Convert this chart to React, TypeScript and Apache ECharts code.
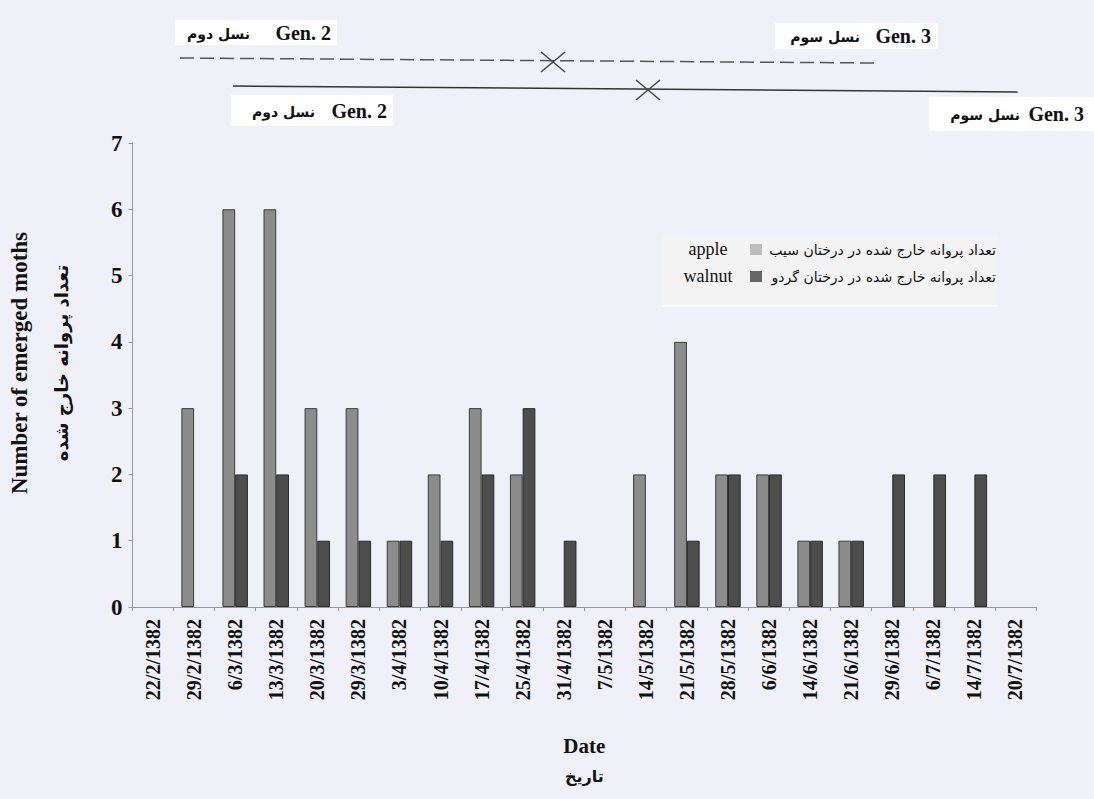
import React, { useEffect, useRef } from "react";
import * as echarts from "echarts";

const categories = [
  "22/2/1382", "29/2/1382", "6/3/1382", "13/3/1382", "20/3/1382", "29/3/1382",
  "3/4/1382", "10/4/1382", "17/4/1382", "25/4/1382", "31/4/1382", "7/5/1382",
  "14/5/1382", "21/5/1382", "28/5/1382", "6/6/1382", "14/6/1382", "21/6/1382",
  "29/6/1382", "6/7/1382", "14/7/1382", "20/7/1382",
];
const appleValues = [0, 3, 6, 6, 3, 3, 1, 2, 3, 2, 0, 0, 2, 4, 2, 2, 1, 1, 0, 0, 0, 0];
const walnutValues = [0, 0, 2, 2, 1, 1, 1, 1, 2, 3, 1, 0, 0, 1, 2, 2, 1, 1, 2, 2, 2, 0];
const yTicks = [0, 1, 2, 3, 4, 5, 6, 7];

const APPLE_COLOR = "#8c8c8c";
const WALNUT_COLOR = "#4d4d4d";
const SERIF = "Liberation Serif";
const FA = "DejaVu Sans";

const toBarData = (vals: number[]) =>
  vals.map((v) => (v === 0 ? { value: v, itemStyle: { borderWidth: 0, opacity: 0 } } : v));

function genLabel(x: number, y: number, w: number, h: number, gen: string, genRight: number, fa: string, faRight: number) {
  return {
    type: "group",
    children: [
      { type: "rect", shape: { x, y, width: w, height: h }, style: { fill: "#ffffff" } },
      {
        type: "text", x: genRight, y: y + h / 2,
        style: { text: gen, fontFamily: SERIF, fontWeight: "bold", fontSize: 20, fill: "#111", align: "right", verticalAlign: "middle" },
      },
      {
        type: "text", x: faRight, y: y + h / 2 + 1,
        style: { text: fa, fontFamily: FA, fontWeight: "bold", fontSize: 14, fill: "#111", align: "right", verticalAlign: "middle" },
      },
    ],
  };
}

function cross(cx: number, cy: number) {
  return [
    { type: "line", shape: { x1: cx - 12, y1: cy - 10, x2: cx + 12, y2: cy + 10 }, style: { stroke: "#444", lineWidth: 1.5 } },
    { type: "line", shape: { x1: cx - 12, y1: cy + 10, x2: cx + 12, y2: cy - 10 }, style: { stroke: "#444", lineWidth: 1.5 } },
  ];
}

export default function App() {
  const ref = useRef<HTMLDivElement>(null);
  useEffect(() => {
    if (!ref.current) return;
    const chart = echarts.init(ref.current, null, { renderer: "svg" });
    chart.setOption({
      animation: false,
      backgroundColor: "#f0f1f8",
      grid: { left: 128, right: 58, top: 143, bottom: 192, containLabel: false },
      xAxis: {
        type: "category",
        data: categories,
        name: "{en|Date}\n{fa|تاریخ}",
        nameLocation: "middle",
        nameGap: 124,
        nameTextStyle: {
          rich: {
            en: { fontFamily: SERIF, fontWeight: "bold", fontSize: 21, color: "#111", lineHeight: 30 },
            fa: { fontFamily: FA, fontWeight: "bold", fontSize: 16, color: "#111", lineHeight: 30 },
          },
        },
        axisLine: { lineStyle: { color: "#999", width: 1 } },
        axisTick: { show: true, alignWithLabel: false, length: 4, lineStyle: { color: "#999" } },
        axisLabel: {
          rotate: 90, interval: 0, margin: 12,
          fontFamily: SERIF, fontWeight: "bold", fontSize: 20, color: "#111",
        },
      },
      yAxis: {
        type: "value",
        min: 0, max: 7, interval: 1,
        name: "{en|Number of emerged moths}\n{fa|تعداد پروانه خارج شده}",
        nameLocation: "middle",
        nameRotate: 90,
        nameGap: 50,
        nameTextStyle: {
          padding: [0, 0, 0, 24],
          rich: {
            en: { fontFamily: SERIF, fontWeight: "bold", fontSize: 23, color: "#111", lineHeight: 42 },
            fa: { fontFamily: FA, fontWeight: "bold", fontSize: 18, color: "#111", lineHeight: 42 },
          },
        },
        axisLine: { show: true, lineStyle: { color: "#999", width: 1 } },
        axisTick: { show: true, length: 4, lineStyle: { color: "#999" } },
        splitLine: { show: false },
        axisLabel: {
          margin: 10,
          fontFamily: SERIF, fontWeight: "bold", fontSize: 23, color: "#111",
          formatter: (v: number) => (yTicks.includes(v) ? String(v) : ""),
        },
      },
      series: [
        {
          name: "apple", type: "bar", data: toBarData(appleValues),
          barGap: "0%", barCategoryGap: "38%",
          itemStyle: { color: APPLE_COLOR, borderColor: "#3a3a3a", borderWidth: 1 },
        },
        {
          name: "walnut", type: "bar", data: toBarData(walnutValues),
          barGap: "0%", barCategoryGap: "38%",
          itemStyle: { color: WALNUT_COLOR, borderColor: "#2a2a2a", borderWidth: 1 },
        },
      ],
      graphic: [
        { type: "line", shape: { x1: 180, y1: 58, x2: 875, y2: 63 }, style: { stroke: "#555", lineWidth: 1.5, lineDash: [14, 6] } },
        ...cross(553, 62),
        { type: "line", shape: { x1: 233, y1: 86, x2: 1018, y2: 92 }, style: { stroke: "#333", lineWidth: 1.5 } },
        ...cross(648, 90),
        genLabel(175, 20, 162, 25, "Gen. 2", 331, "نسل دوم", 250),
        genLabel(231, 95, 162, 31, "Gen. 2", 387, "نسل دوم", 315),
        genLabel(775, 23, 163, 26, "Gen. 3", 931, "نسل سوم", 860),
        genLabel(929, 97, 165, 34, "Gen. 3", 1084, "نسل سوم", 1020),
        {
          type: "group",
          children: [
            { type: "rect", shape: { x: 662, y: 235, width: 335, height: 70 }, style: { fill: "#f3f3f3" } },
            { type: "line", shape: { x1: 662, y1: 306, x2: 997, y2: 306 }, style: { stroke: "#ffffff", lineWidth: 1.5 } },
            { type: "text", x: 708, y: 249, style: { text: "apple", fontFamily: SERIF, fontSize: 18, fill: "#111", align: "center", verticalAlign: "middle" } },
            { type: "rect", shape: { x: 750, y: 244, width: 12, height: 11 }, style: { fill: "#bdbdbd" } },
            { type: "text", x: 996, y: 250, style: { text: "تعداد پروانه خارج شده در درختان سیب", fontFamily: FA, fontSize: 14, fill: "#111", align: "right", verticalAlign: "middle" } },
            { type: "text", x: 708, y: 276, style: { text: "walnut", fontFamily: SERIF, fontSize: 18, fill: "#111", align: "center", verticalAlign: "middle" } },
            { type: "rect", shape: { x: 750, y: 271, width: 12, height: 11 }, style: { fill: "#666666" } },
            { type: "text", x: 996, y: 277, style: { text: "تعداد پروانه خارج شده در درختان گردو", fontFamily: FA, fontSize: 14, fill: "#111", align: "right", verticalAlign: "middle" } },
          ],
        },
      ],
    });
    return () => chart.dispose();
  }, []);
  return <div ref={ref} style={{ width: 1094, height: 799, position: "absolute", left: 0, top: 0 }} />;
}
